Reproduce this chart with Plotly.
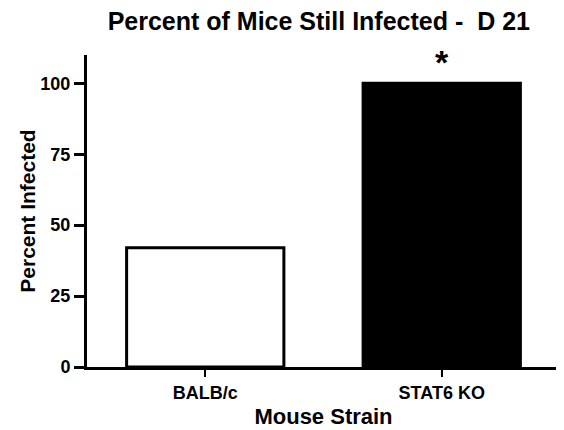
import plotly.graph_objects as go

categories = ["BALB/c", "STAT6 KO"]
percent_infected = [42, 100]
bar_colors = ["white", "black"]
significance = ["", "*"]
y_ticks = [0, 25, 50, 75, 100]

FONT = "Arial, Liberation Sans, Helvetica, sans-serif"

fig = go.Figure()
fig.add_trace(go.Bar(
    x=categories,
    y=percent_infected,
    width=0.665,
    marker=dict(color=bar_colors, line=dict(color="black", width=3)),
    showlegend=False,
))

for c, v, s in zip(categories, percent_infected, significance):
    if s:
        fig.add_annotation(x=c, y=v, text=s, showarrow=False, yanchor="bottom",
                           yshift=0, font=dict(family=FONT, size=34, color="black", weight="bold"))

# page body has an 8px margin, so the figure is sized to the remaining window
fig.update_layout(
    width=556, height=422,
    margin=dict(l=79, r=4, t=47, b=63, autoexpand=False),
    paper_bgcolor="white", plot_bgcolor="white",
    title=dict(text="Percent of Mice Still Infected -  D 21", x=0.559, xanchor="center",
               y=0.969, yanchor="middle",
               font=dict(family=FONT, size=25, color="black", weight="bold")),
    font=dict(family=FONT, color="black"),
)
fig.update_xaxes(
    range=[-0.5, 1.5], showline=True, linewidth=3, linecolor="black",
    ticks="outside", ticklen=7, tickwidth=2, tickcolor="black",
    tickfont=dict(family=FONT, size=18, color="black", weight="bold"),
    title=dict(text="Mouse Strain", standoff=8,
               font=dict(family=FONT, size=22, color="black", weight="bold")),
    showgrid=False, zeroline=False, automargin=False,
)
fig.update_yaxes(
    range=[0, 110], showline=True, linewidth=3, linecolor="black",
    tickvals=y_ticks, ticktext=[str(t) for t in y_ticks],
    ticks="outside", ticklen=10, tickwidth=3, tickcolor="black",
    tickfont=dict(family=FONT, size=18, color="black", weight="bold"),
    title=dict(text="Percent Infected", standoff=0,
               font=dict(family=FONT, size=21, color="black", weight="bold")),
    showgrid=False, zeroline=False, automargin=False,
)

fig.write_html("out.html")
